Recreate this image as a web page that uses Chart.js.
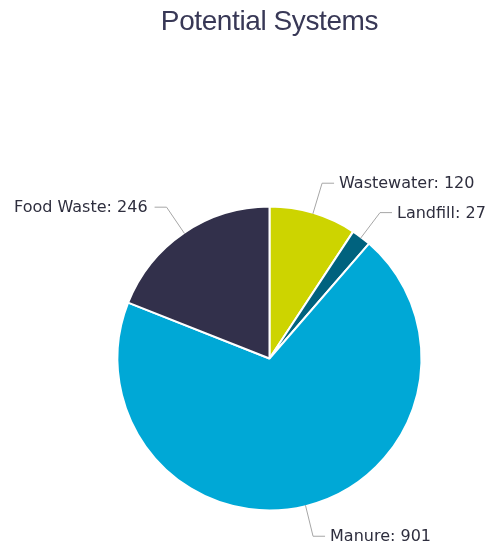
<!DOCTYPE html>
<html>
<head>
<meta charset="utf-8">
<script src="https://cdn.jsdelivr.net/npm/chart.js@4/dist/chart.umd.min.js"></script>
<style>
  body { margin: 0; background: #fff; }
  canvas { display: block; }
</style>
</head>
<body>
<canvas id="myChart" width="488" height="550"></canvas>
<script>
// données du graphique
const labels = ['Wastewater', 'Landfill', 'Manure', 'Food Waste'];
const systems = [120, 27, 901, 246];
const colors = ['#cdd400', '#00627e', '#00a8d6', '#32304b'];

// titre un peu plus serré, comme l'original
const tightTitle = {
    id: 'tightTitle',
    beforeDraw(chart) {
        chart.ctx.letterSpacing = '-0.4px';
    },
    afterDraw(chart) {
        chart.ctx.letterSpacing = '0px';
    }
};

// étiquettes avec traits de rappel (style "callout")
const calloutLabels = {
    id: 'calloutLabels',
    afterDatasetsDraw(chart) {
        const ctx = chart.ctx;
        const meta = chart.getDatasetMeta(0);
        ctx.save();
        ctx.letterSpacing = '0px';
        ctx.font = '16px "DejaVu Sans", Verdana, sans-serif';
        ctx.textBaseline = 'middle';
        meta.data.forEach((arc, i) => {
            const mid = (arc.startAngle + arc.endAngle) / 2;
            const r = arc.outerRadius;
            const cos = Math.cos(mid), sin = Math.sin(mid);
            const x0 = arc.x + cos * (r - 1);
            const y0 = arc.y + sin * (r - 1);
            const x1 = arc.x + cos * (r + 31);
            const y1 = arc.y + sin * (r + 31);
            const right = cos >= 0;
            const x2 = x1 + (right ? 12 : -12);
            ctx.strokeStyle = '#a6a6a6';
            ctx.lineWidth = 1;
            ctx.beginPath();
            ctx.moveTo(x0, y0);
            ctx.lineTo(x1, y1);
            ctx.lineTo(x2, y1);
            ctx.stroke();
            ctx.fillStyle = '#2e2e3e';
            ctx.textAlign = right ? 'left' : 'right';
            ctx.fillText(labels[i] + ': ' + systems[i], x2 + (right ? 5 : -7), y1 + 1);
        });
        ctx.restore();
    }
};

const data = {
    labels: labels,
    datasets: [{
        data: systems,
        backgroundColor: colors,
        borderColor: '#ffffff',
        borderWidth: 2,
        hoverBorderWidth: 2,
        hoverOffset: 0,
        radius: 152
    }]
};

const config = {
    type: 'pie',
    data: data,
    options: {
        responsive: false,
        animation: false,
        layout: {
            padding: { top: 0, bottom: 39, left: 117, right: 66 }
        },
        plugins: {
            legend: { display: false },
            tooltip: { enabled: false },
            title: {
                display: true,
                text: 'Potential Systems',
                color: '#383856',
                font: { family: '"Liberation Sans", Arial, sans-serif', size: 28, weight: 'normal' },
                padding: { top: 5, bottom: 167.4 }
            }
        }
    },
    plugins: [tightTitle, calloutLabels]
};

const myChart = new Chart(document.getElementById('myChart'), config);
</script>
</body>
</html>
